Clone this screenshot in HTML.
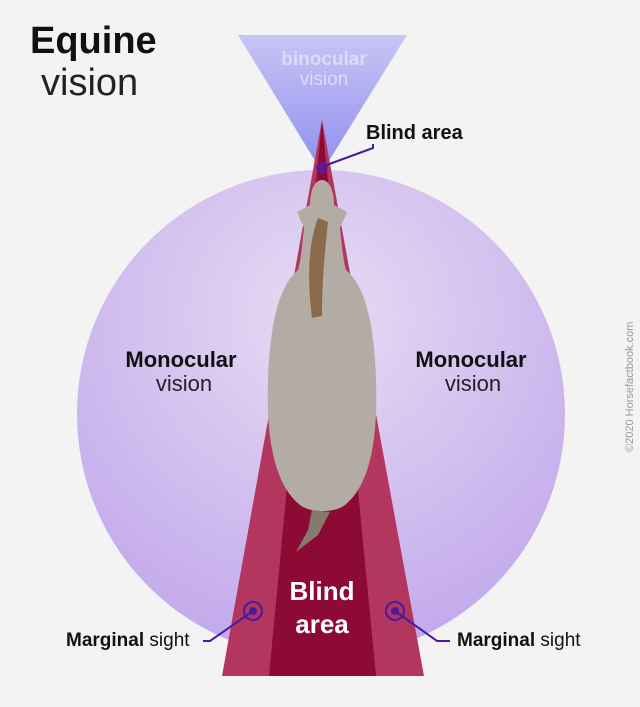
<!DOCTYPE html>
<html><head><style>
body{margin:0;background:#f3f3f3;}
svg{display:block}
text{font-family:"Liberation Sans",sans-serif}
</style></head><body>
<svg width="640" height="707" viewBox="0 0 640 707" xmlns="http://www.w3.org/2000/svg">
<defs>
<radialGradient id="cg" cx="0.5" cy="0.3" r="0.7">
<stop offset="0" stop-color="#e6dcf3"/><stop offset="1" stop-color="#c3a9ec"/>
</radialGradient>
<linearGradient id="tg" x1="0" y1="0" x2="0" y2="1">
<stop offset="0" stop-color="#c8c4f4"/><stop offset="1" stop-color="#8f8ef0"/>
</linearGradient>
</defs>
<rect width="640" height="707" fill="#f3f3f3"/>
<circle cx="321" cy="414" r="244" fill="url(#cg)"/>
<polygon points="238,35 407,35 322,172" fill="url(#tg)"/>
<polygon points="322,120 424,676 222,676" fill="#b3365f"/>
<polygon points="322,120 376,676 269,676" fill="#8c0a33"/>
<!-- horse -->
<path d="M322,180 C314,180 310,192 310,205 L297,212 L304,228 C302,245 301,260 298,270 C280,285 270,320 268,380 C266,440 275,485 300,505 C310,513 335,513 345,505 C370,485 378,440 376,380 C374,320 364,285 346,270 C343,260 342,245 340,228 L347,212 L334,205 C334,192 330,180 322,180Z" fill="#b3aca4"/>
<path d="M318,218 C310,240 306,270 312,318 L322,316 C322,280 325,250 328,222Z" fill="#8b6a4a"/>
<path d="M312,510 L330,512 L318,535 L296,552 L308,530Z" fill="#857a6c"/>
<!-- binocular text -->
<text x="324" y="65" font-size="19" font-weight="bold" fill="#dcdcf8" text-anchor="middle">binocular</text>
<text x="324" y="85" font-size="19" fill="#dcdcf8" text-anchor="middle">vision</text>
<!-- blind area top -->
<circle cx="322" cy="168" r="6" fill="#5a1aa0" opacity="0.8"/>
<polyline points="324,166 373,148 373,144" fill="none" stroke="#4b1aa0" stroke-width="2"/>
<text x="366" y="139" font-size="20" font-weight="bold" fill="#111">Blind area</text>
<!-- title -->
<text x="30" y="53" font-size="38" font-weight="bold" fill="#111">Equine</text>
<text x="41" y="95" font-size="38" fill="#222">vision</text>
<!-- monocular -->
<text x="181" y="367" font-size="22" font-weight="bold" fill="#111" text-anchor="middle">Monocular</text>
<text x="184" y="391" font-size="22" fill="#222" text-anchor="middle">vision</text>
<text x="471" y="367" font-size="22" font-weight="bold" fill="#111" text-anchor="middle">Monocular</text>
<text x="473" y="391" font-size="22" fill="#222" text-anchor="middle">vision</text>
<!-- bottom blind area -->
<text x="322" y="600" font-size="26" font-weight="bold" fill="#fff" text-anchor="middle">Blind</text>
<text x="322" y="633" font-size="26" font-weight="bold" fill="#fff" text-anchor="middle">area</text>
<!-- marginal -->
<circle cx="253" cy="611" r="9" fill="none" stroke="#4b1aa0" stroke-width="2"/>
<circle cx="253" cy="611" r="4" fill="#4b1aa0"/>
<polyline points="253,611 210,641 203,641" fill="none" stroke="#4b1aa0" stroke-width="2"/>
<circle cx="395" cy="611" r="9" fill="none" stroke="#4b1aa0" stroke-width="2"/>
<circle cx="395" cy="611" r="4" fill="#4b1aa0"/>
<polyline points="395,611 437,641 450,641" fill="none" stroke="#4b1aa0" stroke-width="2"/>
<text x="66" y="646" font-size="19" fill="#111"><tspan font-weight="bold">Marginal</tspan> sight</text>
<text x="457" y="646" font-size="19" fill="#111"><tspan font-weight="bold">Marginal</tspan> sight</text>
<text transform="translate(633,452) rotate(-90)" font-size="11" fill="#999">©2020 Horsefactbook.com</text>
</svg>
</body></html>
